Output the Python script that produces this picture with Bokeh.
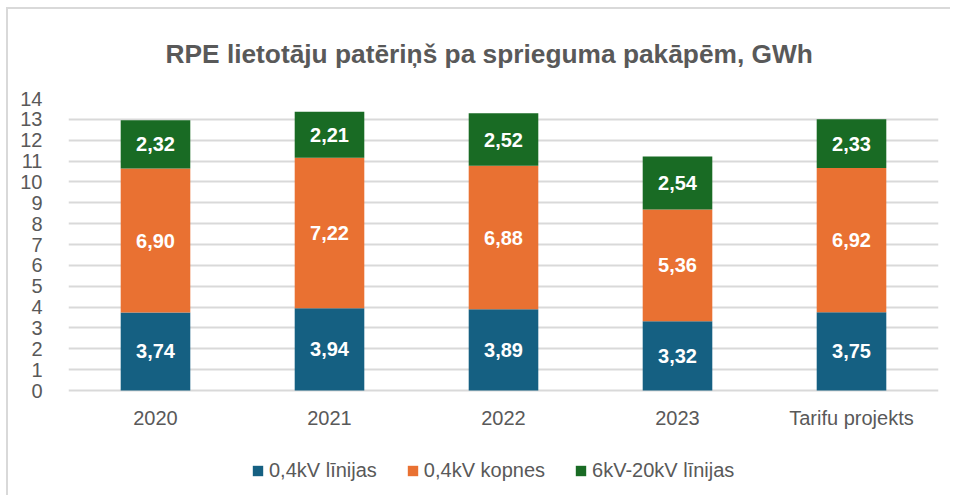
from bokeh.plotting import figure
from bokeh.models import ColumnDataSource, LabelSet, FixedTicker, Range1d, Legend, LegendItem
from bokeh.core.properties import value
from bokeh.embed import file_html
from bokeh.resources import INLINE

categories = ["2020", "2021", "2022", "2023", "Tarifu projekts"]
lines_04 = [3.74, 3.94, 3.89, 3.32, 3.75]
busbars_04 = [6.90, 7.22, 6.88, 5.36, 6.92]
lines_6_20 = [2.32, 2.21, 2.52, 2.54, 2.33]
series_names = ["0,4kV līnijas", "0,4kV kopnes", "6kV-20kV līnijas"]
colors = ["#156082", "#E97132", "#196B24"]
title_text = "RPE lietotāju patēriņš pa sprieguma pakāpēm, GWh"
y_ticks = list(range(0, 15))

FONT = "Liberation Sans"
GREY = "#595959"

src = ColumnDataSource(dict(cat=categories, s1=lines_04, s2=busbars_04, s3=lines_6_20))

# frame extends to the bottom of the canvas; y=0 sits 109 px above the bottom
p = figure(x_range=categories, y_range=Range1d(-5.226, 14), width=954, height=499,
           output_backend="svg", toolbar_location=None,
           min_border_left=68, min_border_right=16, min_border_top=98, min_border_bottom=0)
p.outline_line_color = None
p.background_fill_color = "white"
p.border_fill_color = "white"

rs = p.vbar_stack(["s1", "s2", "s3"], x="cat", width=0.40, color=colors, source=src, line_color=None)

# data labels
segments = [lines_04, busbars_04, lines_6_20]
lx, ly, lt = [], [], []
for i, c in enumerate(categories):
    base = 0.0
    for seg in segments:
        v = seg[i]
        lx.append(c)
        ly.append(base + v / 2)
        lt.append(f"{v:.2f}".replace(".", ","))
        base += v
lsrc = ColumnDataSource(dict(x=lx, y=ly, t=lt))
p.add_layout(LabelSet(x="x", y="y", text="t", source=lsrc, text_color="white",
                      text_font=value(FONT), text_font_style="bold", text_font_size="20px",
                      text_align="center", text_baseline="middle"))

# category labels (x axis)
csrc = ColumnDataSource(dict(x=categories, y=[-1.34] * len(categories), t=categories))
p.add_layout(LabelSet(x="x", y="y", text="t", source=csrc, text_color=GREY,
                      text_font=value(FONT), text_font_size="20px",
                      text_align="center", text_baseline="middle"))
p.xaxis.visible = False

# title
p.title.text = title_text
p.title.align = "left"
p.title.offset = 97
p.title.text_font = FONT
p.title.text_font_style = "bold"
p.title.text_font_size = "26.3px"
p.title.text_color = GREY
p.title.standoff = 59

# grid
p.xgrid.grid_line_color = None
p.ygrid.ticker = FixedTicker(ticks=y_ticks)
p.ygrid.grid_line_color = "#D9D9D9"
p.ygrid.grid_line_width = 2

# y axis
p.yaxis.ticker = FixedTicker(ticks=y_ticks)
p.yaxis.axis_line_color = None
p.yaxis.major_tick_line_color = None
p.yaxis.minor_tick_line_color = None
p.yaxis.major_label_standoff = 20
p.yaxis.major_label_text_font = FONT
p.yaxis.major_label_text_font_size = "20px"
p.yaxis.major_label_text_color = GREY

legend = Legend(items=[LegendItem(label=n, renderers=[r]) for n, r in zip(series_names, rs)],
                orientation="horizontal", location=(183, 17),
                label_text_font=FONT, label_text_font_size="20px", label_text_color=GREY,
                glyph_width=13, glyph_height=13, label_standoff=5, spacing=29,
                padding=0, margin=0, border_line_color=None, background_fill_alpha=0)
p.add_layout(legend, "center")

html = file_html(p, INLINE)
border = ('<style>html,body{margin:0;padding:0;overflow:hidden;}</style>'
          '<div style="position:fixed;left:6px;top:7px;width:944px;height:488px;'
          'border-left:2px solid #D9D9D9;border-top:2px solid #D9D9D9;'
          'box-sizing:border-box;pointer-events:none;z-index:10"></div>')
html = html.replace("</body>", border + "</body>")
open("out.html", "w").write(html)
